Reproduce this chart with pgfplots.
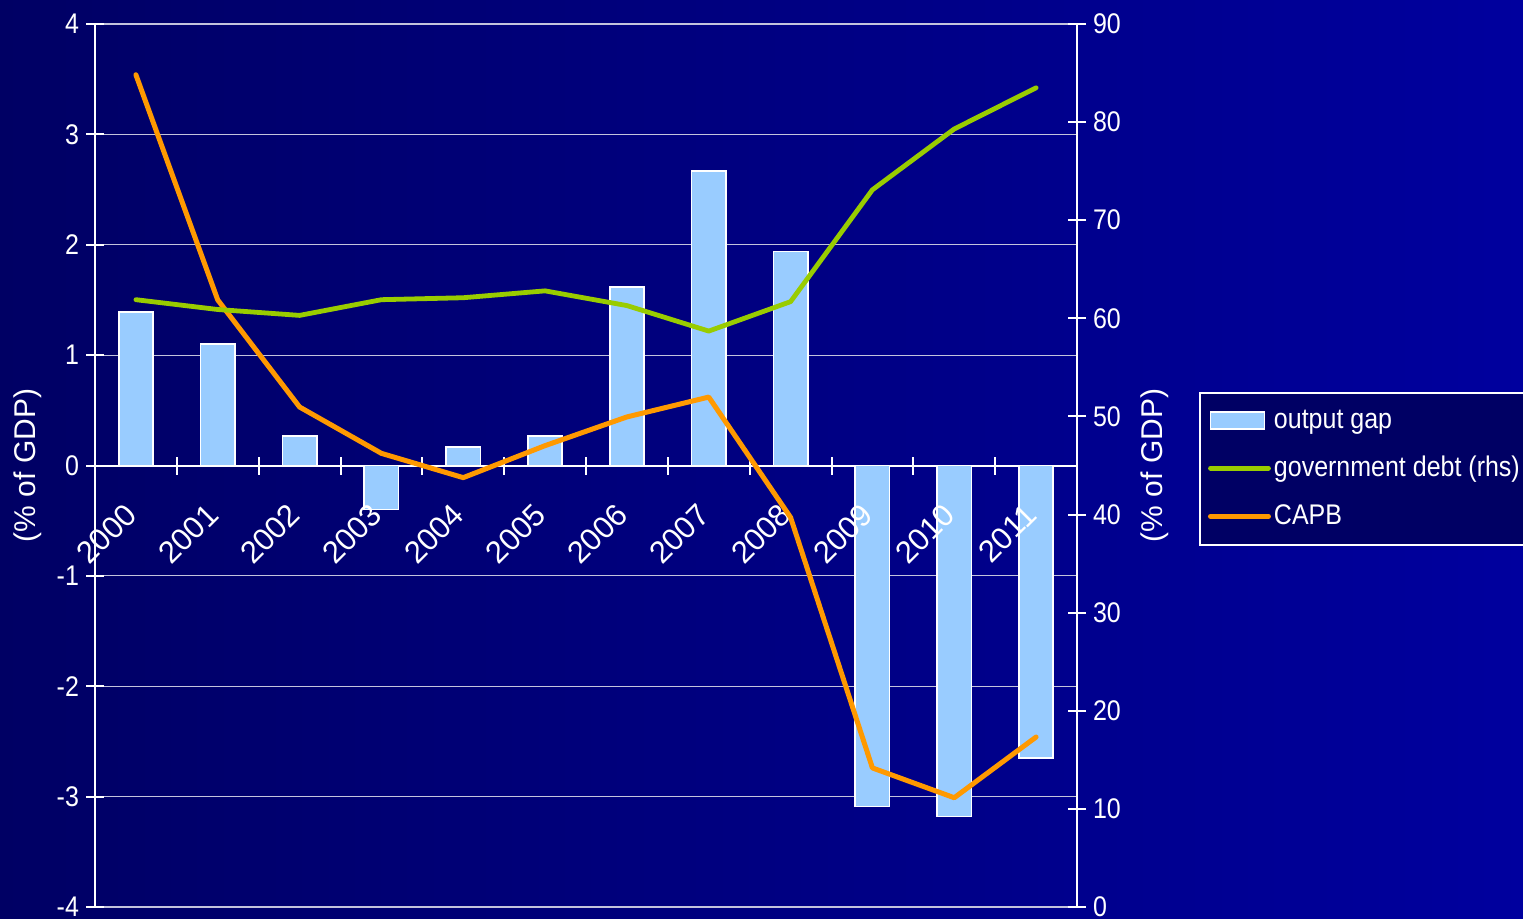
\documentclass[border=0pt]{standalone}
\usepackage{fontspec}
\setmainfont[FakeStretch=0.88]{Liberation Sans}
\newfontfamily\plainfont{Liberation Sans}
\usepackage{pgfplots}
\usepackage{pgfplotstable}
\pgfplotsset{compat=1.18}

\definecolor{bgleft}{RGB}{0,0,100}
\definecolor{bgright}{RGB}{0,0,158}
\definecolor{barfill}{RGB}{153,204,255}
\definecolor{capb}{RGB}{255,153,0}
\definecolor{debt}{RGB}{153,204,0}
\definecolor{gridc}{RGB}{195,195,220}
\definecolor{legbg}{RGB}{0,0,100}

\pgfplotstableread{
x gap capb debt
0  1.39  3.54 61.9
1  1.10  1.50 60.9
2  0.27  0.53 60.3
3 -0.40  0.11 61.9
4  0.17 -0.11 62.1
5  0.27  0.18 62.8
6  1.62  0.44 61.3
7  2.67  0.62 58.7
8  1.94 -0.47 61.7
9 -3.09 -2.74 73.1
10 -3.18 -3.01 79.3
11 -2.65 -2.46 83.5
}\data

\newcommand{\chartfont}{\fontsize{14.2}{17}\selectfont}
\newcommand{\labelfont}{\plainfont\fontsize{15}{18}\selectfont}
\newcommand{\yearfont}{\plainfont\fontsize{15.5}{18}\selectfont}

\pgfplotsset{
  /pgf/number format/assume math mode=true,
  base/.style={
    at={(47.5pt,5.5pt)}, anchor=south west,
    scale only axis, width=491pt, height=441.5pt,
    xmin=-0.5, xmax=11.5,
    tick align=center,
    axis line style={white, line width=1pt},
    tick style={white, line width=1pt},
    major tick length=9pt, minor tick length=9pt,
    tick label style={text=white, font=\chartfont},
    label style={text=white, font=\labelfont},
  },
  lineleg/.style={legend image code/.code={\draw[##1] (0pt,0pt) -- (29pt,0pt);}},
  barleg/.style={legend image code/.code={\draw[##1] (0pt,-4.25pt) rectangle (27pt,4.25pt);}},
}

\begin{document}
\begin{tikzpicture}
\shade[left color=bgleft, right color=bgright] (0,0) rectangle (761.5pt,459pt);
\clip (0,0) rectangle (761.5pt,459pt);

% left axis: grid, axis lines and output gap bars
\begin{axis}[base,
  ymin=-4, ymax=4,
  axis x line*=middle, axis y line*=left,
  xtick={0,...,11}, xticklabels={},
  major x tick style={draw=none},
  minor xtick={-0.5,0.5,...,11.5},
  ytick={-4,...,4},
  ymajorgrids, major grid style={gridc, line width=0.6pt},
  ylabel={(\% of GDP)},
  ylabel style={at={(axis description cs:-0.0682,0.5)}, anchor=center},
]
\addplot[ybar, bar width=0.42, fill=barfill, draw=white, line width=0.8pt]
  table[x=x, y=gap]{\data};
\end{axis}

% left scale again: year labels above the bars, then CAPB
\begin{axis}[base,
  ymin=-4, ymax=4,
  axis x line*=middle, axis y line=none,
  x axis line style={draw=none},
  xtick={0,...,11},
  xticklabels={2000,2001,2002,2003,2004,2005,2006,2007,2008,2009,2010,2011},
  major tick length=0pt,
  xticklabel style={yshift=-19.5pt, rotate=45, anchor=east, font=\yearfont},
  ytick=\empty,
]
\addplot[capb, line width=2.5pt, line cap=round, line join=round]
  table[x=x, y=capb]{\data};
\end{axis}

% right axis: government debt
\begin{axis}[base,
  ymin=0, ymax=90,
  axis x line=none, axis y line*=right,
  ytick={0,10,...,90},
  ylabel={(\% of GDP)},
  ylabel style={at={(axis description cs:1.0794,0.5)}, anchor=center},
  lineleg,
  legend style={at={(axis description cs:1.1242,0.5832)}, anchor=north west,
    fill=legbg, draw=white, line width=1pt, text=white, font=\chartfont,
    inner xsep=4pt, inner ysep=6.5pt, row sep=8.5pt,
    nodes={inner xsep=1.5pt}},
  legend cell align=left,
]
\addlegendimage{barleg, fill=barfill, draw=white, line width=0.8pt}
\addlegendentry{output gap}
\addplot[debt, line width=2.4pt, line cap=round, line join=round]
  table[x=x, y=debt]{\data};
\addlegendentry{government debt (rhs)}
\addlegendimage{lineleg, capb, line width=2.5pt, line cap=round}
\addlegendentry{CAPB}
\end{axis}
\end{tikzpicture}
\end{document}
